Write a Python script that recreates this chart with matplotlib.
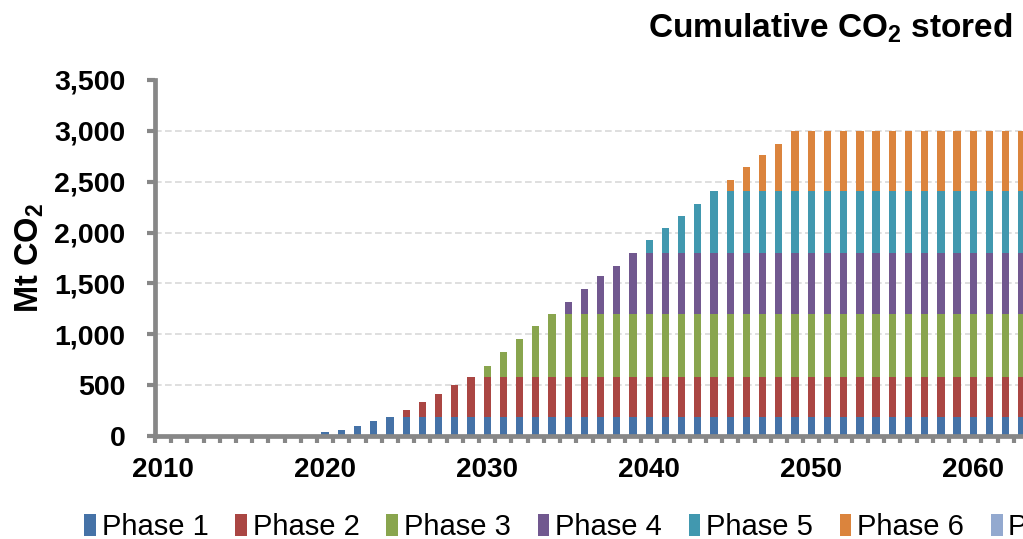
import matplotlib
matplotlib.use("Agg")
import matplotlib.pyplot as plt
import numpy as np

# Cumulative CO2 stored by project phase, Mt CO2 (one bar per year)
years = list(range(2010, 2064))
phase1 = [0] * 10 + [39, 59, 98, 147, 186] + [186] * 39
phase2 = [0] * 15 + [69, 147, 226, 314, 392] + [392] * 34
phase3 = [0] * 20 + [108, 245, 373, 500, 618] + [618] * 29
phase4 = [0] * 25 + [118, 245, 373, 480, 608] + [608] * 24
phase5 = [0] * 30 + [127, 245, 363, 480, 608] + [608] * 19
phase6 = [0] * 35 + [108, 235, 353, 461, 588] + [588] * 14
phase7 = [0] * 54

series_names = ["Phase 1", "Phase 2", "Phase 3", "Phase 4", "Phase 5", "Phase 6", "Phase 7"]
series_values = [phase1, phase2, phase3, phase4, phase5, phase6, phase7]
series_colors = ["#4572A7", "#AA4643", "#89A54E", "#71588F", "#4198AF", "#DB843D", "#93A9CF"]

x_labels = [2010, 2020, 2030, 2040, 2050, 2060]
y_ticks = [0, 500, 1000, 1500, 2000, 2500, 3000, 3500]

plt.rcParams["font.family"] = ["Liberation Sans", "DejaVu Sans"]
plt.rcParams["mathtext.fontset"] = "custom"
plt.rcParams["mathtext.rm"] = "Liberation Sans:bold"
plt.rcParams["mathtext.bf"] = "Liberation Sans:bold"

W, H = 1023, 539
fig = plt.figure(figsize=(W / 100, H / 100), dpi=100)

# axes: left spine at x=155 px, zero line at y=436 px, 3,500 at y=80 px
left_px, right_px = 155, 1030
bottom_px, top_px = 436, 80
ax = fig.add_axes([left_px / W, (H - bottom_px) / H,
                   (right_px - left_px) / W, (bottom_px - top_px) / H])

axis_gray = "#878787"
x = np.array(years)
base = np.zeros(len(years))
for name, vals, col in zip(series_names, series_values, series_colors):
    v = np.array(vals, dtype=float)
    ax.bar(x, v, bottom=base, width=0.45, color=col, label=name, zorder=2, linewidth=0)
    base += v

ax.set_xlim(2009.5, 2063.5)
ax.set_ylim(0, 3500)

# horizontal dashed gridlines
for yv in y_ticks[1:-1]:
    ax.axhline(yv, color="#D9D9D9", lw=1.2, ls=(0, (4, 2)), zorder=1)

for s in ["top", "right"]:
    ax.spines[s].set_visible(False)
for s in ["left", "bottom"]:
    ax.spines[s].set_color(axis_gray)
    ax.spines[s].set_linewidth(3.4)
    ax.spines[s].set_zorder(3)

ax.set_yticks(y_ticks)
ax.set_yticklabels([f"{v:,}" for v in y_ticks])
ax.tick_params(axis="y", direction="out", length=5.5, width=3.0, color=axis_gray,
               labelsize=20.5, pad=16)
for t in ax.get_yticklabels():
    t.set_fontweight("bold")

# year labels at category centres, tick marks between categories
ax.set_xticks(x_labels)
ax.set_xticklabels([str(v) for v in x_labels])
ax.tick_params(axis="x", which="major", length=0, labelsize=20, pad=15)
for t in ax.get_xticklabels():
    t.set_fontweight("bold")
ax.set_xticks(np.arange(2009.5, 2064.0, 1.0), minor=True)
ax.tick_params(axis="x", which="minor", direction="out", length=4.8, width=3.0,
               color=axis_gray)

fig.text(30 / W, 1 - 258 / H, r"Mt CO$_{\mathbf{2}}$", rotation=90, ha="center", va="center",
         fontsize=23.5, fontweight="bold")

fig.text(1013 / W, 1 - 37 / H, r"Cumulative CO$_{\mathbf{2}}$ stored", ha="right", va="baseline",
         fontsize=24, fontweight="bold")

handles, labels = ax.get_legend_handles_labels()
leg = fig.legend(handles, labels, ncol=7, loc="lower left",
                 bbox_to_anchor=(84 / W, -2 / H), frameon=False, fontsize=21,
                 handlelength=0.4, handleheight=0.75, handletextpad=0.2,
                 columnspacing=0.92, borderaxespad=0, borderpad=0)

fig.savefig("out.png", dpi=100)
